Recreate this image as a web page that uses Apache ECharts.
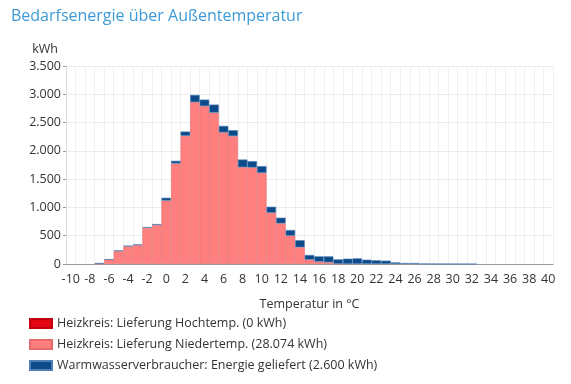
<!DOCTYPE html>
<html>
<head>
<meta charset="utf-8">
<script src="https://cdn.jsdelivr.net/npm/echarts@6/dist/echarts.min.js"></script>
<style>
html,body{margin:0;padding:0;background:#fff;}
#c{width:571px;height:384px;}
</style>
</head>
<body>
<div id="c"></div>
<script>
const titleText = 'Bedarfsenergie über Außentemperatur';
const yUnit = 'kWh';
const xName = 'Temperatur in °C';
const temperatures = [];
for (let t = -10; t <= 40; t++) temperatures.push(String(t));

const seriesNames = [
  'Heizkreis: Lieferung Hochtemp. (0 kWh)',
  'Heizkreis: Lieferung Niedertemp. (28.074 kWh)',
  'Warmwasserverbraucher: Energie geliefert (2.600 kWh)'
];

// values per temperature -10 ... 40
const hochtemp = [
  0,0,0,0,0,0,0,0,0,0,
  0,0,0,0,0,0,0,0,0,0,
  0,0,0,0,0,0,0,0,0,0,
  0,0,0,0,0,0,0,0,0,0,
  0,0,0,0,0,0,0,0,0,0,0
];
const niedertemp = [
  0,0,0,10,78,228,312,335,638,690,          // -10 .. -1
  1120,1775,2265,2860,2790,2675,2325,2260,1710,1705, // 0 .. 9
  1610,905,718,500,295,76,41,29,5,0,        // 10 .. 19
  0,0,0,0,0,0,0,0,0,0,                      // 20 .. 29
  0,0,0,0,0,0,0,0,0,0,0                     // 30 .. 40
];
const warmwasser = [
  0,0,0,2,4,13,12,12,15,16,                 // -10 .. -1
  51,49,76,129,116,143,116,105,137,113,     // 0 .. 9
  120,107,100,100,125,83,94,106,77,94,      // 10 .. 19
  100,76,65,59,29,18,18,7,4,3,              // 20 .. 29
  2,2,1,0,0,0,0,0,0,0,0                     // 30 .. 40
];

const colors = ['#e30613', '#ff7f7f', '#0d4a8a'];
const borders = ['#c00010', '#e66b6e', '#4f7fb5'];

const fmt = v => String(v).replace(/\B(?=(\d{3})+(?!\d))/g, '.');

const chart = echarts.init(document.getElementById('c'));
const dataSets = [hochtemp, niedertemp, warmwasser];
chart.setOption({
  animation: false,
  title: {
    text: titleText,
    left: 6, top: 3,
    textStyle: {color: '#3d9ad6', fontSize: 16, fontWeight: 'normal', fontFamily: 'Open Sans'}
  },
  legend: {
    orient: 'vertical',
    left: 24, top: 312,
    itemWidth: 22, itemHeight: 9, itemGap: 8,
    icon: 'rect',
    textStyle: {color: '#333', fontSize: 12.5, fontFamily: 'Open Sans'},
    data: seriesNames
  },
  grid: {left: 66, right: 18, top: 66, bottom: 120, containLabel: false},
  xAxis: {
    type: 'category',
    data: temperatures,
    boundaryGap: true,
    name: xName,
    nameLocation: 'middle',
    nameGap: 34,
    nameTextStyle: {color: '#333', fontSize: 12.5, fontFamily: 'Open Sans'},
    axisLine: {lineStyle: {color: '#9a9a9a'}},
    axisTick: {interval: 0, length: 4, lineStyle: {color: '#9a9a9a'}},
    axisLabel: {interval: 1, color: '#333', fontSize: 12.5, fontFamily: 'Open Sans', margin: 9},
    splitLine: {show: true, interval: 0, lineStyle: {color: '#efefef'}}
  },
  yAxis: {
    type: 'value',
    min: 0, max: 3500, interval: 500,
    name: yUnit,
    nameGap: 10,
    nameTextStyle: {color: '#333', fontSize: 12.5, fontFamily: 'Open Sans', align: 'right', padding: [0, 8, 0, 0]},
    axisLine: {show: true, lineStyle: {color: '#dcdcdc'}},
    axisTick: {show: true, length: 3, lineStyle: {color: '#9a9a9a'}},
    axisLabel: {color: '#333', fontSize: 12.5, fontFamily: 'Open Sans', margin: 5, formatter: fmt},
    splitLine: {lineStyle: {color: '#ececec'}}
  },
  series: dataSets.map((d, i) => ({
    name: seriesNames[i],
    type: 'bar',
    stack: 'total',
    data: d.map(v => (v === 0 ? '-' : v)),
    barCategoryGap: 0,
    barGap: 0,
    itemStyle: {color: colors[i], borderColor: borders[i], borderWidth: 0.6}
  }))
});
</script>
</body>
</html>
